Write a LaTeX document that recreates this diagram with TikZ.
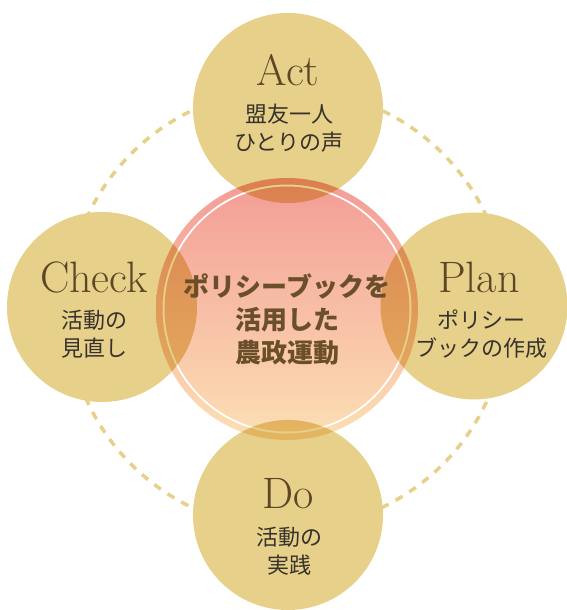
\documentclass[tikz,border=0pt]{standalone}
\usepackage{fontspec}
\newfontfamily\jpfont{Noto Sans CJK JP}
\definecolor{gold}{RGB}{231,208,137}
\definecolor{titlebrown}{RGB}{94,70,38}
\definecolor{jptext}{RGB}{55,50,45}
\definecolor{centerbrown}{RGB}{107,79,42}
\definecolor{innertop}{RGB}{243,156,150}
\definecolor{innerbot}{RGB}{252,224,180}
\tikzset{
  phase/.style={circle,fill=gold,minimum size=190pt,inner sep=0pt},
  title/.style={font=\fontsize{44}{44}\selectfont,text=titlebrown,inner sep=0pt,anchor=base},
  jp/.style={font=\jpfont\fontsize{22}{28}\selectfont,text=jptext,align=center,inner sep=0pt},
  centertext/.style={font=\jpfont\bfseries\fontsize{26}{33}\selectfont,text=centerbrown,align=center,inner sep=0pt},
  ring/.style={dash pattern=on 8pt off 8pt,line width=3.5pt,draw=gold}
}
\begin{document}
\begin{tikzpicture}[x=1pt,y=-1pt]
\useasboundingbox (0,0) rectangle (567,610);
\coordinate (c) at (287,309);
% dashed cycle
\draw[ring] (c) circle[radius=220];
% phase circles
\node[phase] (act) at (288,108) {};
\node[phase] (do) at (288,515) {};
\node[phase] (check) at (102,307) {};
\node[phase,minimum size=187pt] (plan) at (474,306) {};
% central circle, multiplied over the phase circles, with a white gap line
\begin{scope}[blend mode=multiply]
  \shade[top color=innertop,bottom color=innerbot,even odd rule]
    (c) circle[radius=131] (c) circle[radius=124.5] (c) circle[radius=122.5];
\end{scope}
\node[centertext] (center) at (287,319) {ポリシーブックを\\活用した\\農政運動};
% labels
\node[title] (acttitle) at (288,85) {Act};
\node[jp] (actjp) at (289,128) {盟友一人\\ひとりの声};
\node[title] (checktitle) at (94,292) {Check};
\node[jp] (checkjp) at (94,334) {活動の\\見直し};
\node[title] (plantitle) at (479,292) {Plan};
\node[jp] (planjp) at (481,334) {ポリシー\\ブックの作成};
\node[title] (dotitle) at (288,508) {Do};
\node[jp] (dojp) at (289,551) {活動の\\実践};
\end{tikzpicture}
\end{document}
